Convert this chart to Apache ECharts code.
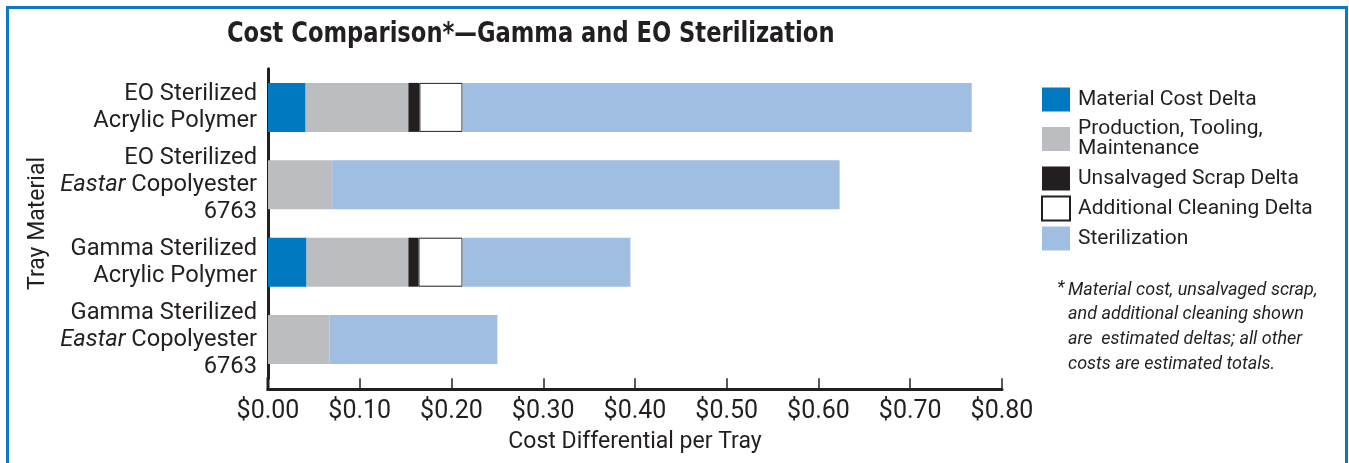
<!DOCTYPE html>
<html>
<head>
<meta charset="utf-8">
<script src="https://cdn.jsdelivr.net/npm/echarts@6/dist/echarts.min.js"></script>
<style>
  html, body { margin: 0; padding: 0; background: #fff; }
  #main { width: 1349px; height: 463px; }
</style>
</head>
<body>
<div id="main"></div>
<script>
// data (cost per tray, $)
var categories = [
    'EO Sterilized\nAcrylic Polymer',
    'EO Sterilized\nEastar Copolyester\n6763',
    'Gamma Sterilized\nAcrylic Polymer',
    'Gamma Sterilized\nEastar Copolyester\n6763'
];
var seriesNames = ['Material Cost Delta', 'Production, Tooling,\nMaintenance', 'Unsalvaged Scrap Delta', 'Additional Cleaning Delta', 'Sterilization'];
var materialCost = [0.041, '-', 0.042, '-'];
var production = [0.112, 0.070, 0.111, 0.067];
var scrap = [0.012, '-', 0.011, '-'];
var cleaning = [0.047, '-', 0.048, '-'];
var sterilization = [0.555, 0.553, 0.183, 0.183];
var xTicks = ['$0.00', '$0.10', '$0.20', '$0.30', '$0.40', '$0.50', '$0.60', '$0.70', '$0.80'];

var textColor = '#231f20';
var font = 'Roboto, "Liberation Sans", sans-serif';

var gridLeft = 268, gridRight = 347, gridTop = 68.7, gridBottom = 84.7, axisOffset = 11;

var myChart = echarts.init(document.getElementById('main'));

function barSeries(name, data, color, extra) {
    var s = {
        name: name,
        type: 'bar',
        stack: 'cost',
        barWidth: 49,
        data: data,
        itemStyle: { color: color },
        emphasis: { disabled: true }
    };
    if (extra) s.itemStyle = extra;
    return s;
}

myChart.setOption({
    backgroundColor: '#fff',
    animation: false,
    title: [{
        text: '*',
        left: 1057,
        top: 279,
        padding: 0,
        textStyle: { fontFamily: font, fontStyle: 'italic', fontWeight: 'normal', fontSize: 18, color: textColor }
    }, {
        text: 'Material cost, unsalvaged scrap,\nand additional cleaning shown\nare  estimated deltas; all other\ncosts are estimated totals.',
        left: 1068,
        top: 278,
        padding: 0,
        textStyle: { fontFamily: font, fontStyle: 'italic', fontWeight: 'normal', fontSize: 18, lineHeight: 24.6, color: textColor }
    }],
    legend: {
        orient: 'vertical',
        left: 1041,
        top: 87,
        padding: 0,
        icon: 'rect',
        itemWidth: 28,
        itemHeight: 24,
        itemGap: 4.5,
        selectedMode: false,
        data: seriesNames,
        textStyle: { fontFamily: font, fontSize: 21, lineHeight: 20, color: textColor, padding: [2.5, 0, 2.5, 3] }
    },
    grid: { left: gridLeft, right: gridRight, top: gridTop, bottom: gridBottom, containLabel: false },
    xAxis: {
        type: 'value',
        min: 0,
        max: 0.8,
        interval: 0.1,
        offset: axisOffset,
        name: 'Cost Differential per Tray',
        nameLocation: 'middle',
        nameGap: 41,
        nameTextStyle: { fontFamily: font, fontSize: 23, color: textColor },
        axisLine: { show: true, lineStyle: { color: textColor, width: 3 } },
        axisTick: { show: true, inside: true, length: 11, lineStyle: { color: textColor, width: 1.5 } },
        splitLine: { show: false },
        axisLabel: {
            fontFamily: font,
            fontSize: 25,
            color: textColor,
            margin: 10,
            formatter: function (v) { return xTicks[Math.round(v * 10)]; }
        }
    },
    yAxis: {
        type: 'category',
        inverse: true,
        data: categories,
        name: 'Tray Material',
        nameLocation: 'middle',
        nameRotate: 90,
        nameGap: 213,
        nameTextStyle: { fontFamily: font, fontSize: 23, color: textColor },
        axisLine: { show: true, lineStyle: { color: textColor, width: 3 } },
        axisTick: { show: false },
        axisLabel: {
            fontFamily: font,
            fontSize: 23.7,
            lineHeight: 27,
            color: textColor,
            margin: 11,
            align: 'right',
            formatter: function (v) { return v.replace('Eastar', '{i|Eastar}'); },
            rich: {
                i: { fontFamily: font, fontSize: 23.7, lineHeight: 27, fontStyle: 'italic', color: textColor }
            }
        }
    },
    series: [
        barSeries(seriesNames[0], materialCost, '#0079c1'),
        barSeries(seriesNames[1], production, '#bcbdc0'),
        barSeries(seriesNames[2], scrap, '#231f20'),
        barSeries(seriesNames[3], cleaning, null, { color: '#ffffff', borderColor: '#231f20', borderWidth: 1 }),
        barSeries(seriesNames[4], sterilization, '#a0bde2')
    ],
    graphic: [{
        // blue frame round the figure
        type: 'rect',
        silent: true,
        shape: { x: 7.5, y: 7.5, width: 1339, height: 500 },
        style: { fill: null, stroke: '#0a7bc2', lineWidth: 3 }
    }, {
        // y axis line runs down to the offset x axis
        type: 'line',
        silent: true,
        shape: { x1: gridLeft, y1: 463 - gridBottom - 1, x2: gridLeft, y2: 463 - gridBottom + axisOffset + 1.5 },
        style: { stroke: textColor, lineWidth: 3 }
    }, {
        // chart title, squeezed to a condensed look
        type: 'text',
        silent: true,
        x: 227,
        y: 21,
        scaleX: 0.898,
        style: {
            text: 'Cost Comparison*\u2014Gamma and EO Sterilization',
            fontFamily: '"DejaVu Sans Condensed", "DejaVu Sans", sans-serif',
            fontWeight: 'bold',
            fontSize: 28,
            fill: textColor,
            verticalAlign: 'top'
        }
    }]
});
</script>
</body>
</html>
